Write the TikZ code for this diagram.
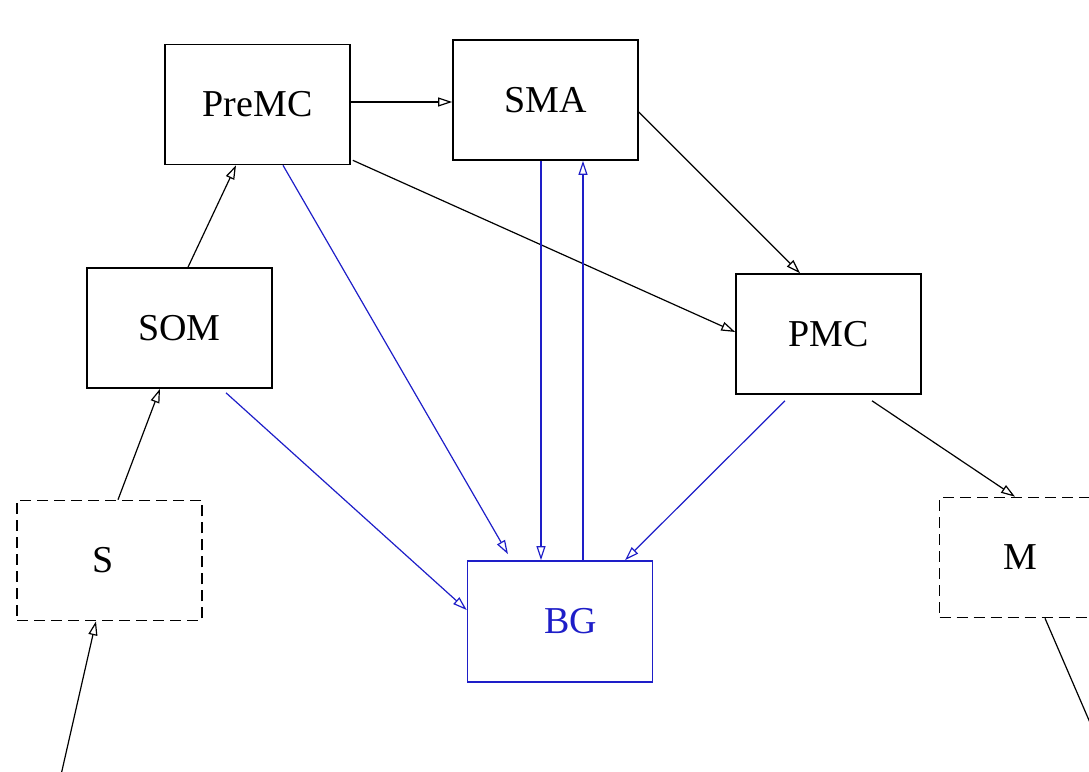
\documentclass[tikz,border=0pt]{standalone}
\usepackage{fontspec}
\setmainfont{Liberation Serif}
\usetikzlibrary{arrows.meta}
\definecolor{bgblue}{RGB}{30,30,200}
\begin{document}
\begin{tikzpicture}[x=1pt,y=1pt,
  box/.style={draw, line width=1.6pt, minimum width=185pt, minimum height=120pt,
              inner sep=0pt, font=\fontsize{38}{44}\selectfont},
  dbox/.style={box, dash pattern=on 11pt off 6pt},
  link/.style={line width=1.2pt, -{Triangle[open, length=14pt, width=9pt]}},
  blink/.style={link, draw=bgblue}]
\useasboundingbox (0,0) rectangle (1089,771);
\clip (0,0) rectangle (1089,771);

% areas
\node[box]  (premc) at (257.5,666.5) {PreMC};
\node[box]  (sma)   at (545.5,671)   {SMA};
\node[box]  (som)   at (179.5,443)   {SOM};
\node[box]  (pmc)   at (828.5,437)   {PMC};
\node[dbox] (s)     at (109.5,210.5) {\hspace*{-12pt}S};
\node[dbox] (m)     at (1032,213.5)  {\hspace*{-24pt}M};
\node[box, draw=bgblue, text=bgblue, minimum height=121pt] (bg) at (560,149.5) {\hspace*{22pt}BG};

% free ends of the in/out pathways
\coordinate (sin)  at (61,-4);
\coordinate (mout) at (1110,2);

% cortical pathways
\draw[link] ([yshift=2.5]premc.east) -- ([yshift=-2]sma.west);
\draw[link] ([shift={(2,5)}]premc.south east) -- ([yshift=2]pmc.west);
\draw[link] ([yshift=-12]sma.east) -- ([xshift=-28.5]pmc.north);
\draw[link] ([xshift=8.5]som.north) -- ([xshift=-21.5]premc.south);
\draw[link] ([xshift=8.5]s.north) -- ([xshift=-19.5]som.south);
\draw[link] (sin) -- ([xshift=-13.5]s.south);
\draw[link] ([shift={(43.5,-6)}]pmc.south) -- ([xshift=-17]m.north);
\draw[link] ([xshift=13]m.south) -- (mout);

% basal ganglia loops
\draw[blink] ([xshift=25.5]premc.south) -- ([shift={(-52,6)}]bg.north);
\draw[blink] ([shift={(46.5,-4)}]som.south) -- ([yshift=11.5]bg.west);
\draw[blink] ([xshift=-4.5]sma.south) -- ([xshift=-19]bg.north);
\draw[blink] ([xshift=23]bg.north) -- ([xshift=37.5]sma.south);
\draw[blink] ([shift={(-43.5,-6)}]pmc.south) -- ([xshift=65]bg.north);
\end{tikzpicture}
\end{document}
